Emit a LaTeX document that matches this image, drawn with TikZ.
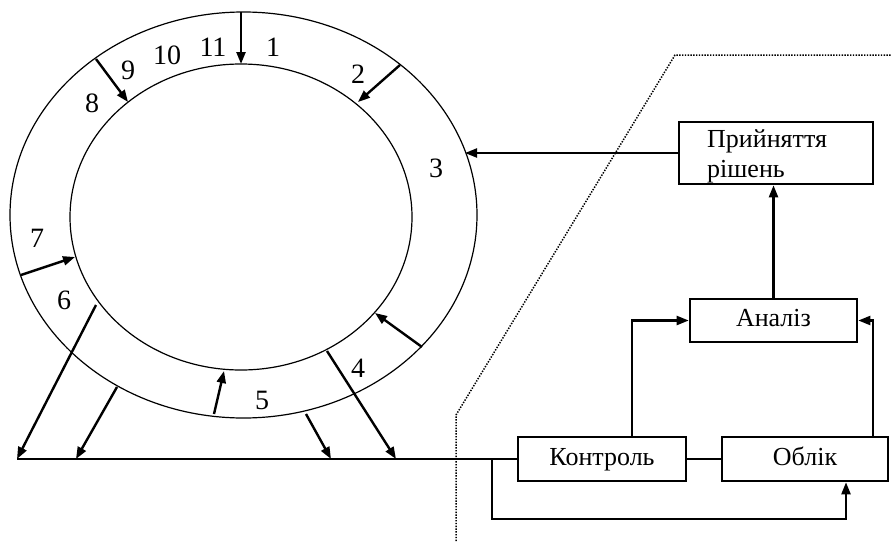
\documentclass[tikz,border=0pt]{standalone}
\usepackage{fontspec}
\setmainfont{Liberation Serif}
\usetikzlibrary{arrows.meta}
\begin{document}
\begin{tikzpicture}[x=1pt,y=-1pt,
  ring/.style={line width=1.2pt},
  rarr/.style={line width=2.4pt,-{Triangle[length=12pt,width=9pt]}},
  conn/.style={line width=1.6pt},
  carr/.style={line width=2.2pt,-{Triangle[length=12pt,width=9pt]}},
  box/.style={draw,line width=2.6pt,rectangle,inner sep=0pt,text height=18pt,text depth=6pt,font=\fontsize{26}{30}\selectfont},
  num/.style={inner sep=0pt,font=\fontsize{28}{30}\selectfont},
  bound/.style={line width=1.5pt,dash pattern=on 1.4pt off 1.4pt}]
\useasboundingbox (0,0) rectangle (891,541);
\fill[white] (0,0) rectangle (891,541);
% ring
\draw[ring] (243.5,215) ellipse [x radius=233.5pt, y radius=203pt];
\draw[ring] (241,217) ellipse [x radius=171pt, y radius=153pt];
% numbers
\node[num] (n1) at (273,47) {1};
\node[num] (n11) at (213,47) {11};
\node[num] (n10) at (167,55) {10};
\node[num] (n9) at (128,70) {9};
\node[num] (n8) at (92,103) {8};
\node[num] (n2) at (358,74) {2};
\node[num] (n3) at (436,168) {3};
\node[num] (n7) at (37,238) {7};
\node[num] (n6) at (64,300) {6};
\node[num] (n5) at (262,400) {5};
\node[num] (n4) at (358,368) {4};
% ring arrows
\coordinate (a1s) at (241,12);  \coordinate (a1e) at (241,64);
\coordinate (a2s) at (400,65);  \coordinate (a2e) at (358,102);
\coordinate (a8s) at (96,59);   \coordinate (a8e) at (128,102);
\coordinate (a7s) at (21,275);  \coordinate (a7e) at (75,257);
\coordinate (a6s) at (96,305);  \coordinate (a6e) at (17,459);
\coordinate (b6s) at (117,387); \coordinate (b6e) at (76,459);
\coordinate (a5s) at (214,414); \coordinate (a5e) at (224,371);
\coordinate (b5s) at (306,414); \coordinate (b5e) at (331,459);
\coordinate (a4s) at (327,351); \coordinate (a4e) at (396,459);
\coordinate (b4s) at (422,347); \coordinate (b4e) at (375,313);
\draw[rarr] (a1s) -- (a1e);
\draw[rarr] (a2s) -- (a2e);
\draw[rarr] (a8s) -- (a8e);
\draw[rarr] (a7s) -- (a7e);
\draw[rarr] (a6s) -- (a6e);
\draw[rarr] (b6s) -- (b6e);
\draw[rarr] (a5s) -- (a5e);
\draw[rarr] (b5s) -- (b5e);
\draw[rarr] (a4s) -- (a4e);
\draw[rarr] (b4s) -- (b4e);
% boundary
\draw[bound] (456,541) -- (456,415) -- (675,55) -- (891,55);
% boxes
\node[box,minimum width=194pt,minimum height=62pt] (pr) at (776,153) {};
\node[anchor=north west,inner sep=0pt,align=left,font=\fontsize{26}{30}\selectfont] (prt) at (707,129) {Прийняття\\рішень};
\node[box,minimum width=167pt,minimum height=43pt] (an) at (773.5,320.5) {Аналіз};
\node[box,minimum width=168pt,minimum height=44pt] (kt) at (602,459) {Контроль};
\node[box,minimum width=166pt,minimum height=44pt] (ob) at (805,459) {Облік};
% connectors
\coordinate (ringR) at (465,153);
\draw[carr] (pr.west) -- (ringR);
\draw[carr] (an.north) -- (an.north |- pr.south);
\draw[carr] ([xshift=30pt]kt.north) |- (an.west);
\draw[carr] ([xshift=68pt]ob.north) |- (an.east);
\draw[conn] (kt.east) -- (ob.west);
\coordinate (L0) at (17,459);
\coordinate (fb) at (492,459);
\coordinate (fbb) at (492,519);
\draw[conn] (L0) -- (kt.west);
\draw[carr] (fb) -- (fbb) -| ([xshift=41pt]ob.south);
\end{tikzpicture}
\end{document}
